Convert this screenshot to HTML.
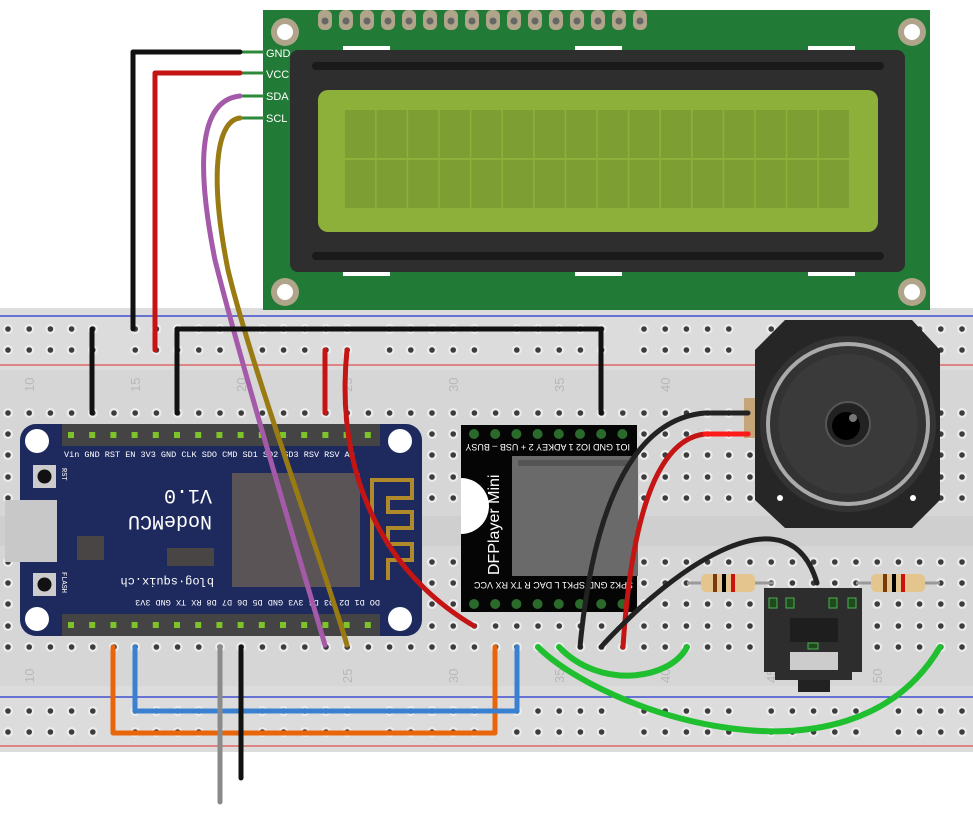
<!DOCTYPE html>
<html><head><meta charset="utf-8"><style>
html,body{margin:0;padding:0;background:#fff;}
svg{display:block;font-family:"Liberation Sans",sans-serif;}
</style></head><body>
<svg id="s" width="973" height="821" viewBox="0 0 973 821" xmlns="http://www.w3.org/2000/svg">
<rect x="0" y="308" width="973" height="444" fill="#dcdcdc"/>
<rect x="0" y="370" width="973" height="146" fill="#d6d6d6"/>
<rect x="0" y="516" width="973" height="30" fill="#cfcfcf"/>
<rect x="0" y="546" width="973" height="140" fill="#d6d6d6"/>
<line x1="0" y1="316" x2="973" y2="316" stroke="#2233cc" stroke-width="1.2"/>
<line x1="0" y1="365" x2="973" y2="365" stroke="#e05050" stroke-width="1.2"/>
<line x1="0" y1="697" x2="973" y2="697" stroke="#2233cc" stroke-width="1.2"/>
<line x1="0" y1="746" x2="973" y2="746" stroke="#e05050" stroke-width="1.2"/>
<g id="holes"></g>
<g fill="#b8b8b8" font-size="13">
<text transform="translate(34,392) rotate(-90)">10</text>
<text transform="translate(140,392) rotate(-90)">15</text>
<text transform="translate(246,392) rotate(-90)">20</text>
<text transform="translate(352,392) rotate(-90)">25</text>
<text transform="translate(458,392) rotate(-90)">30</text>
<text transform="translate(564,392) rotate(-90)">35</text>
<text transform="translate(670,392) rotate(-90)">40</text>
<text transform="translate(34,683) rotate(-90)">10</text>
<text transform="translate(352,683) rotate(-90)">25</text>
<text transform="translate(458,683) rotate(-90)">30</text>
<text transform="translate(564,683) rotate(-90)">35</text>
<text transform="translate(670,683) rotate(-90)">40</text>
<text transform="translate(776,683) rotate(-90)">45</text>
<text transform="translate(882,683) rotate(-90)">50</text>
</g>

<rect x="263" y="10" width="667" height="300" fill="#217a35"/>
<g id="lcdpins"></g>
<g fill="#b0a48a"><circle cx="285" cy="32" r="14"/><circle cx="912" cy="32" r="14"/><circle cx="285" cy="292" r="14"/><circle cx="912" cy="292" r="14"/></g>
<g fill="#fff"><circle cx="285" cy="32" r="8"/><circle cx="912" cy="32" r="8"/><circle cx="285" cy="292" r="8"/><circle cx="912" cy="292" r="8"/></g>
<g fill="#fff"><rect x="343" y="46" width="47" height="4"/><rect x="575" y="46" width="47" height="4"/><rect x="808" y="46" width="47" height="4"/>
<rect x="343" y="272" width="47" height="4"/><rect x="575" y="272" width="47" height="4"/><rect x="808" y="272" width="47" height="4"/></g>
<rect x="290" y="50" width="615" height="222" rx="8" fill="#2e2e2e"/>
<rect x="312" y="62" width="572" height="8" rx="4" fill="#1a1a1a"/>
<rect x="312" y="252" width="572" height="8" rx="4" fill="#1a1a1a"/>
<rect x="318" y="90" width="560" height="142" rx="10" fill="#8cb03a"/>
<g id="chars"></g>
<g fill="#fff" font-size="11"><text x="266" y="57">GND</text><text x="266" y="78">VCC</text><text x="266" y="100">SDA</text><text x="266" y="122">SCL</text></g>
<g stroke="#2e8a3a" stroke-width="3"><line x1="240" y1="52" x2="264" y2="52"/><line x1="240" y1="73" x2="264" y2="73"/><line x1="240" y1="96" x2="264" y2="96"/><line x1="240" y1="118" x2="264" y2="118"/></g>

<rect x="744" y="398" width="14" height="40" fill="#c4a67a"/>
<polygon points="785,320 912,320 940,350 940,500 912,528 785,528 755,500 755,350" fill="#262626"/>
<circle cx="848" cy="424" r="88" fill="#333"/>
<circle cx="848" cy="424" r="80" fill="none" stroke="#aaa" stroke-width="4"/>
<circle cx="848" cy="424" r="70" fill="#3a3a3a"/>
<circle cx="848" cy="424" r="22" fill="#222" stroke="#555" stroke-width="2"/>
<circle cx="846" cy="426" r="14" fill="#000"/>
<circle cx="853" cy="418" r="4" fill="#777"/>
<circle cx="780" cy="498" r="3" fill="#fff"/><circle cx="913" cy="498" r="3" fill="#fff"/>

<rect x="20" y="424" width="402" height="212" rx="16" fill="#1e2a5e"/>
<rect x="62" y="424" width="318" height="22" fill="#444"/>
<rect x="62" y="614" width="318" height="22" fill="#444"/>
<g id="nmpins"></g>
<circle cx="37" cy="441" r="12" fill="#fff"/><circle cx="400" cy="441" r="12" fill="#fff"/>
<circle cx="37" cy="619" r="12" fill="#fff"/><circle cx="400" cy="619" r="12" fill="#fff"/>
<rect x="5" y="500" width="52" height="62" fill="#c8c8c8"/>
<rect x="33" y="465" width="23" height="23" fill="#ccc"/><circle cx="44.5" cy="476.5" r="7" fill="#111"/>
<rect x="33" y="573" width="23" height="23" fill="#ccc"/><circle cx="44.5" cy="584.5" r="7" fill="#111"/>
<rect x="77" y="536" width="27" height="24" fill="#4a4545"/>
<rect x="167" y="548" width="47" height="18" fill="#4a4545"/>
<rect x="232" y="473" width="128" height="114" fill="#5b5456"/>
<path d="M372,580 V480 H412 V498 H388 V512 H412 V528 H388 V544 H412 V560 H388 V580" fill="none" stroke="#b08a2a" stroke-width="4"/>
<g fill="#fff" font-family="Liberation Mono,monospace" font-size="8.5">
<text x="64" y="457">Vin GND RST  EN 3V3 GND CLK SDO CMD SD1 SD2 SD3 RSV RSV  AD</text>
<text transform="translate(380,600) rotate(180)">DO  D1  D2  D3  D4 3V3 GND  D5  D6  D7  D8  RX  TX GND 3V3</text>
<text transform="translate(62,468) rotate(90)" font-size="7">RST</text>
<text transform="translate(62,572) rotate(90)" font-size="7">FLASH</text>
</g>
<g fill="#fff" font-family="Liberation Mono,monospace">
<text transform="translate(212,490) rotate(180)" font-size="20">V1.0</text>
<text transform="translate(212,516) rotate(180)" font-size="20">NodeMCU</text>
<text transform="translate(214,578) rotate(180)" font-size="12">blog·squix.ch</text>
</g>

<rect x="461" y="425" width="176" height="187" fill="#050505"/>
<rect x="512" y="456" width="126" height="120" fill="#6a6a6a"/>
<rect x="518" y="460" width="110" height="6" fill="#555"/>
<path d="M461,478 a22,22 0 0 1 0,56 z" fill="#fff"/>
<g id="dfpins"></g>
<g fill="#fff" font-size="9">
<text transform="translate(630,444) rotate(180)">IO1 GND IO2 1 ADKEY 2 + USB – BUSY</text>
<text transform="translate(633,582) rotate(180)">SPK2 GND SPK1 L DAC R TX RX VCC</text>
<text transform="translate(499,575) rotate(-90)" font-size="16">DFPlayer Mini</text>
</g>

<rect x="764" y="588" width="98" height="84" fill="#2d2d2d"/>
<rect x="775" y="672" width="77" height="8" fill="#2d2d2d"/>
<rect x="790" y="618" width="48" height="24" fill="#1e1e1e"/>
<rect x="790" y="652" width="48" height="18" fill="#ccc"/>
<rect x="798" y="680" width="32" height="12" fill="#222"/>
<g fill="#1e4a1e" stroke="#4caf50" stroke-width="1"><rect x="769" y="598" width="8" height="10"/><rect x="786" y="598" width="8" height="10"/><rect x="829" y="598" width="8" height="10"/><rect x="848" y="598" width="8" height="10"/><rect x="808" y="643" width="10" height="6"/></g>

<line x1="687" y1="583" x2="774" y2="583" stroke="#999" stroke-width="3"/>
<rect x="701" y="574" width="54" height="18" rx="5" fill="#e4c58e"/>
<rect x="713" y="574" width="4" height="18" fill="#7a3a10"/><rect x="722" y="574" width="4" height="18" fill="#000"/><rect x="731" y="574" width="4" height="18" fill="#cc1111"/>
<line x1="856" y1="583" x2="940" y2="583" stroke="#999" stroke-width="3"/>
<rect x="871" y="574" width="54" height="18" rx="5" fill="#e4c58e"/>
<rect x="883" y="574" width="4" height="18" fill="#7a3a10"/><rect x="892" y="574" width="4" height="18" fill="#000"/><rect x="901" y="574" width="4" height="18" fill="#cc1111"/>

<g fill="none" stroke-linecap="round" stroke-linejoin="round" stroke-width="5">
<path d="M240,52 H133 V329" stroke="#111"/>
<path d="M240,73 H155 V350" stroke="#c41414"/>
<path d="M240,96 C200,100 195,160 215,260 C240,360 300,560 325,645" stroke="#a45aa8"/>
<path d="M240,118 C218,120 208,170 228,270 C252,370 322,560 347,645" stroke="#9a7a12"/>
<path d="M92,329 V413" stroke="#111"/>
<path d="M177,413 V329 H601 V413" stroke="#111"/>
<path d="M325,350 V413" stroke="#c41414"/>
<path d="M347,350 C335,470 380,570 474,626" stroke="#c41414"/>
<path d="M113,647 V733 H495 V647" stroke="#e8650a"/>
<path d="M135,647 V711 H517 V647" stroke="#3a80d0"/>
<path d="M220,647 V802" stroke="#8a8a8a"/>
<path d="M241,647 V778" stroke="#111"/>
<path d="M580,647 C590,540 620,420 705,413 H748" stroke="#222"/>
<path d="M623,647 C630,540 650,440 705,434 H748" stroke="#c41414"/>
<path d="M705,434 H748" stroke="#ff1a1a"/>
<path d="M601,647 C680,560 790,490 817,583" stroke="#222"/>
<path d="M538,647 C600,710 850,800 940,647" stroke="#1fbf2f" stroke-width="6"/>
<path d="M559,647 C600,690 670,680 687,647" stroke="#1fbf2f" stroke-width="6"/>
</g>
</svg>
<script>
var NS="http://www.w3.org/2000/svg",h=document.getElementById('holes');
function el(p,t,a){var e=document.createElementNS(NS,t);for(var k in a)e.setAttribute(k,a[k]);p.appendChild(e);return e;}
function hole(x,y){el(h,'circle',{cx:x,cy:y,r:5,fill:'#ececec'});el(h,'circle',{cx:x,cy:y,r:2.8,fill:'#3c3c3c'});}
for(var i=0;i<46;i++){var x=8+i*21.2;
 [413,434,455,477,498,562,583,604,626,647].forEach(function(y){hole(x,y);});
 if(i%6!=5){[329,350,711,732].forEach(function(y){hole(x,y);});}}
var lp=document.getElementById('lcdpins');
for(var i=0;i<16;i++){var x=325+i*21;el(lp,'rect',{x:x-7,y:10,width:14,height:20,rx:6,fill:'#b0a48a'});el(lp,'circle',{cx:x,cy:21,r:3.5,fill:'#666'});}
var ch=document.getElementById('chars');
for(var i=0;i<16;i++)for(var j=0;j<2;j++)el(ch,'rect',{x:345+i*31.6,y:110+j*50,width:30,height:48,fill:'#7d9e33'});
var np=document.getElementById('nmpins');
for(var i=0;i<15;i++){var x=71+i*21.2;el(np,'rect',{x:x-3,y:432,width:6,height:6,fill:'#7dc42a'});el(np,'rect',{x:x-3,y:622,width:6,height:6,fill:'#7dc42a'});}
var dp=document.getElementById('dfpins');
for(var i=0;i<8;i++){var x=474+i*21.2;el(dp,'circle',{cx:x,cy:434,r:5,fill:'#2a6a2a'});el(dp,'circle',{cx:x,cy:604,r:5,fill:'#2a6a2a'});}
</script>
</body></html>
